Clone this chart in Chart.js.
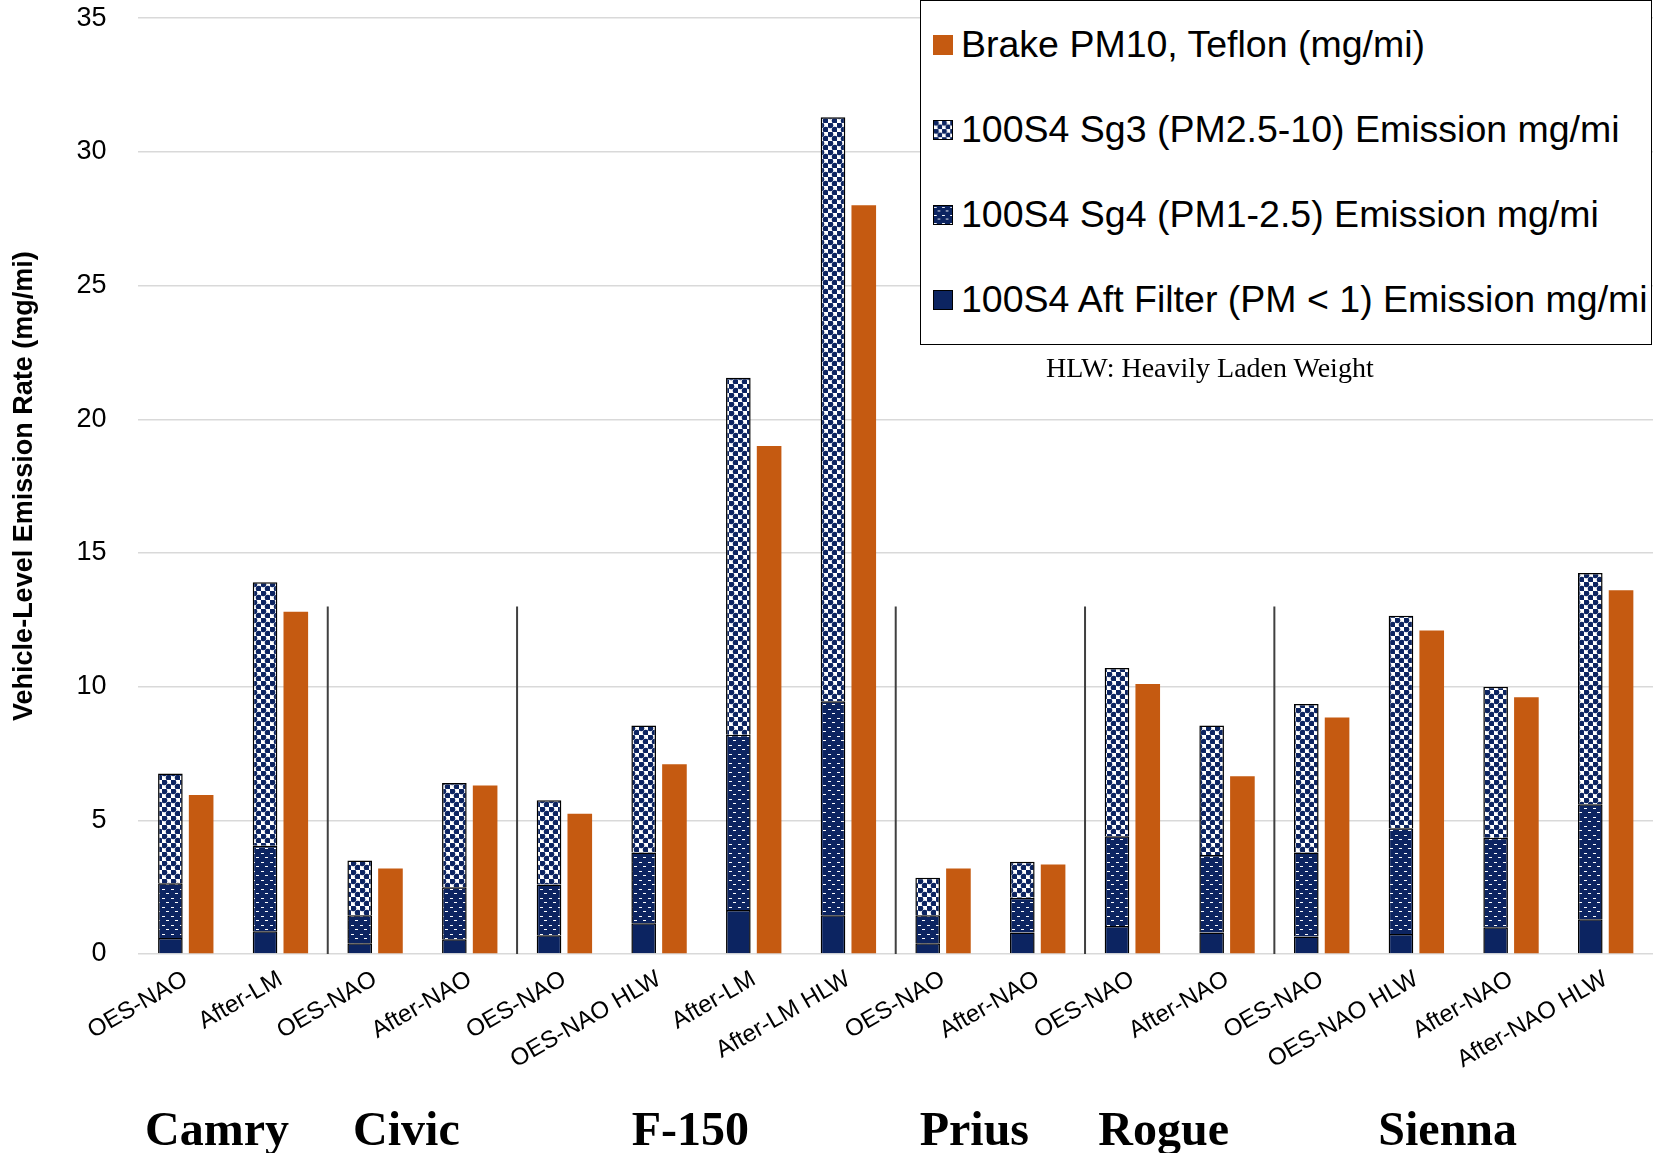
<!DOCTYPE html>
<html>
<head>
<meta charset="utf-8">
<script src="https://cdn.jsdelivr.net/npm/chart.js@4.4.1/dist/chart.umd.min.js"></script>
<style>
  html, body { margin: 0; padding: 0; background: #fff; overflow: hidden; }
  #wrap { position: relative; width: 1665px; height: 1153px; overflow: hidden; }
  #c { position: absolute; left: 0; top: -30px; }
  #legend { position: absolute; left: 920px; top: 0px; width: 732px; height: 345px; border: 1.5px solid #000;
    background: #fff; font-family: "Liberation Sans", Arial, sans-serif; font-size: 37.5px; color: #000; box-sizing: border-box; }
  .li { position: absolute; left: 12px; display: flex; align-items: center; white-space: nowrap; }
  .sw { width: 20px; height: 20px; margin-right: 8px; border: 1px solid #000; box-sizing: border-box; }
  #note { position: absolute; left: 1046px; top: 352px; font-family: "Liberation Serif", "DejaVu Serif", serif; font-size: 28px; color: #000; }
</style>
</head>
<body>
<div id="wrap">
  <canvas id="c" width="1665" height="1183"></canvas>
  <div id="legend"></div>
  <div id="note">HLW: Heavily Laden Weight</div>
</div>
<script>
// categories and vehicle groups
const categories = ['OES-NAO', 'After-LM', 'OES-NAO', 'After-NAO', 'OES-NAO', 'OES-NAO HLW', 'After-LM', 'After-LM HLW',
  'OES-NAO', 'After-NAO', 'OES-NAO', 'After-NAO', 'OES-NAO', 'OES-NAO HLW', 'After-NAO', 'After-NAO HLW'];
const groups = [
  { name: 'Camry', from: 0, to: 1 },
  { name: 'Civic', from: 2, to: 3 },
  { name: 'F-150', from: 4, to: 7 },
  { name: 'Prius', from: 8, to: 9 },
  { name: 'Rogue', from: 10, to: 11 },
  { name: 'Sienna', from: 12, to: 15 }
];
// series (mg/mi)
const aftFilter = [0.6, 0.85, 0.4, 0.55, 0.7, 1.15, 1.65, 1.45, 0.4, 0.8, 1.05, 0.8, 0.65, 0.75, 1.0, 1.3];
const sg4 = [2.05, 3.2, 1.05, 1.95, 1.9, 2.65, 6.55, 8.0, 1.05, 1.3, 3.35, 2.9, 3.15, 3.95, 3.35, 4.3];
const sg3 = [4.1, 9.85, 2.05, 3.9, 3.15, 4.75, 13.35, 21.85, 1.4, 1.35, 6.3, 4.85, 5.55, 7.95, 5.65, 8.65];
const brake = [5.95, 12.8, 3.2, 6.3, 5.25, 7.1, 19.0, 28.0, 3.2, 3.35, 10.1, 6.65, 8.85, 12.1, 9.6, 13.6];
const yTicks = [0, 5, 10, 15, 20, 25, 30, 35];

const NAVY = '#0c2461';
const ORANGE = '#c55a11';

function makePattern(kind) {
  const t = document.createElement('canvas');
  t.width = 9; t.height = 9;
  const g = t.getContext('2d');
  if (kind === 'dots') {
    g.fillStyle = '#fff'; g.fillRect(0, 0, 9, 9);
    g.fillStyle = NAVY;
    g.beginPath(); g.arc(2.25, 2.25, 3, 0, Math.PI * 2); g.fill();
    g.beginPath(); g.arc(6.75, 6.75, 3, 0, Math.PI * 2); g.fill();
  } else {
    g.fillStyle = NAVY; g.fillRect(0, 0, 9, 9);
    g.fillStyle = '#fff';
    g.fillRect(0, 1, 3, 1); g.fillRect(4, 5, 3, 1);
  }
  return g.createPattern(t, 'repeat');
}
const sg3Pat = makePattern('dots');
const sg4Pat = makePattern('dash');

// separators between vehicles + group names
const groupPlugin = {
  id: 'groups',
  afterDatasetsDraw(chart) {
    const { ctx, scales: { x, y } } = chart;
    ctx.save();
    ctx.strokeStyle = '#404040';
    ctx.lineWidth = 2;
    groups.slice(0, -1).forEach(gr => {
      const px = (x.getPixelForValue(gr.to) + x.getPixelForValue(gr.to + 1)) / 2;
      ctx.beginPath();
      ctx.moveTo(px, y.getPixelForValue(13));
      ctx.lineTo(px, y.getPixelForValue(0));
      ctx.stroke();
    });
    ctx.fillStyle = '#000';
    ctx.font = 'bold 48px "Liberation Serif", "DejaVu Serif", serif';
    ctx.textAlign = 'center';
    ctx.textBaseline = 'alphabetic';
    groups.forEach(gr => {
      const cx = (x.getPixelForValue(gr.from) + x.getPixelForValue(gr.to)) / 2 - 16;
      ctx.fillText(gr.name, cx, 1175);
    });
    ctx.restore();
  }
};

const datasets = [
  { label: '100S4 Aft Filter (PM < 1) Emission mg/mi', data: aftFilter, backgroundColor: NAVY, stack: 'a' },
  { label: '100S4 Sg4 (PM1-2.5) Emission mg/mi', data: sg4, backgroundColor: sg4Pat, stack: 'a' },
  { label: '100S4 Sg3 (PM2.5-10) Emission mg/mi', data: sg3, backgroundColor: sg3Pat, stack: 'a' },
  { label: 'Brake PM10, Teflon (mg/mi)', data: brake, backgroundColor: ORANGE, stack: 'b', borderWidth: 0 }
];
datasets.forEach(d => {
  if (d.stack === 'a') { d.borderColor = '#000'; d.borderWidth = 1.5; }
  d.barPercentage = 0.8;
  d.categoryPercentage = 0.65;
});

new Chart(document.getElementById('c'), {
  type: 'bar',
  data: { labels: categories, datasets },
  plugins: [groupPlugin],
  options: {
    responsive: false,
    animation: false,
    layout: { padding: { top: 0, right: 12, bottom: 0, left: 4 } },
    plugins: { legend: { display: false }, tooltip: { enabled: false } },
    scales: {
      x: {
        stacked: true,
        grid: { display: false },
        border: { display: false },
        afterFit: s => { s.height = 199; },
        ticks: { color: '#000', minRotation: 30, maxRotation: 30, font: { family: '"Liberation Sans", Arial', size: 24 } }
      },
      y: {
        stacked: true,
        min: 0, max: 35,
        afterBuildTicks: ax => { ax.ticks = yTicks.map(v => ({ value: v })); },
        grid: { color: '#d9d9d9', lineWidth: 1.5, drawTicks: false },
        border: { display: false },
        ticks: { color: '#000', padding: 32, font: { family: '"Liberation Sans", Arial', size: 27 } },
        title: { display: true, text: 'Vehicle-Level Emission Rate (mg/mi)', color: '#000',
          font: { family: '"Liberation Sans", Arial', size: 27, weight: 'bold' } }
      }
    }
  }
});

// legend (reverse order, as in reference)
const leg = document.getElementById('legend');
datasets.slice().reverse().forEach((d, i) => {
  const row = document.createElement('div');
  row.className = 'li';
  row.style.top = (22 + i * 85) + 'px';
  const sw = document.createElement('canvas');
  sw.className = 'sw'; sw.width = 20; sw.height = 20;
  const g = sw.getContext('2d');
  g.fillStyle = d.backgroundColor; g.fillRect(0, 0, 20, 20);
  if (d.stack === 'b') sw.style.border = 'none';
  const tx = document.createElement('span');
  tx.textContent = d.label;
  row.appendChild(sw); row.appendChild(tx);
  leg.appendChild(row);
});
</script>
</body>
</html>
